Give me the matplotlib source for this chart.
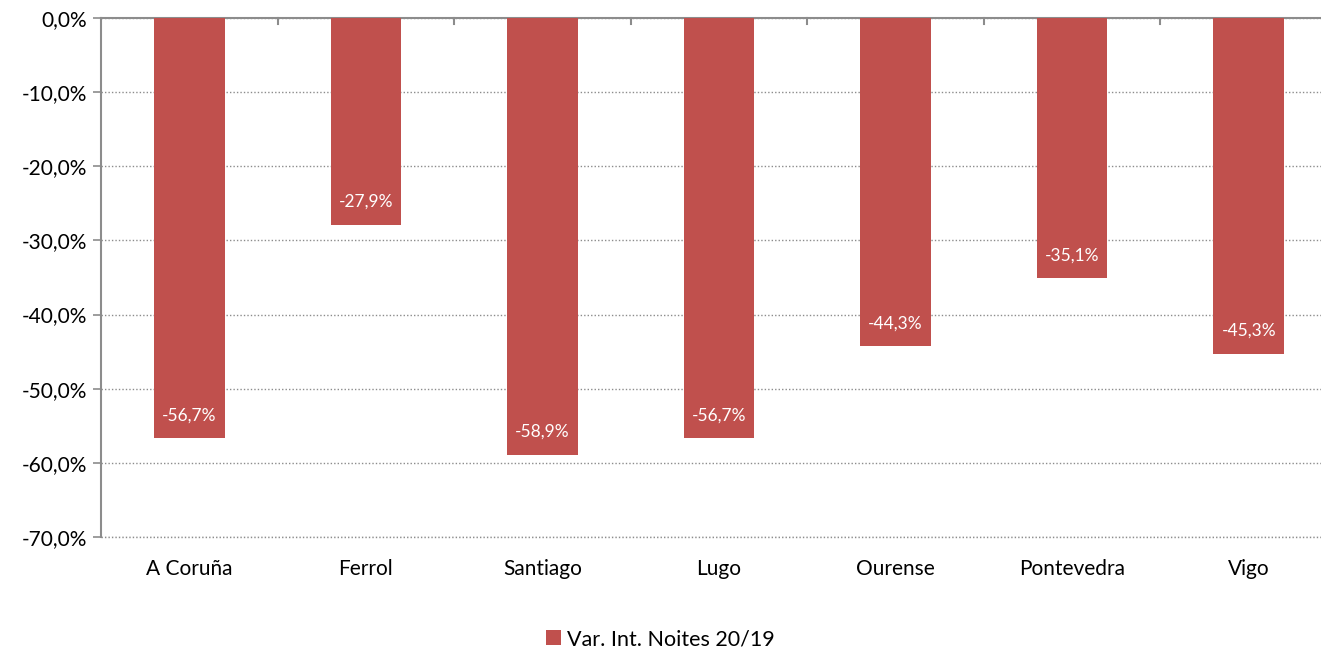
import matplotlib
matplotlib.use("Agg")
import matplotlib.pyplot as plt
from matplotlib.ticker import FuncFormatter, MultipleLocator
from matplotlib.patches import Patch

categories = ["A Coruña", "Ferrol", "Santiago", "Lugo", "Ourense", "Pontevedra", "Vigo"]
values = [-56.7, -27.9, -58.9, -56.7, -44.3, -35.1, -45.3]
series_name = "Var. Int. Noites 20/19"

plt.rcParams['font.family'] = ['Lato', 'DejaVu Sans']
W, H = 1321, 649
fig = plt.figure(figsize=(W/100, H/100), dpi=100)
left, right = 101/W, 1337/W
top, bottom = 1 - 18/H, 1 - 537/H
ax = fig.add_axes([left, bottom, right-left, top-bottom])

color = "#C0504D"
axcol = "#8C8C8C"
x = list(range(len(categories)))
bars = ax.bar(x, values, width=0.4, color=color, zorder=3)
for xi, v in zip(x, values):
    ax.annotate(f"{v:.1f}%".replace(".", ","), (xi, v), xytext=(0, 23), textcoords="offset pixels",
                ha="center", va="center", color="white", fontsize=12.5, zorder=4)

ax.set_ylim(-70, 0)
ax.set_xlim(-0.5, len(categories) - 0.5)
ax.yaxis.set_major_locator(MultipleLocator(10))
ax.yaxis.set_major_formatter(FuncFormatter(lambda v, p: f"{v:.1f}%".replace(".", ",")))
ax.grid(axis="y", linestyle=(0, (1, 1.5)), color="#8C8C8C", linewidth=1, zorder=0)
ax.axhline(-70, linestyle=(0, (1, 1.5)), color="#8C8C8C", linewidth=1, zorder=0, clip_on=False)

for s in ["right", "bottom"]:
    ax.spines[s].set_visible(False)
ax.spines["top"].set_color(axcol)
ax.spines["left"].set_color(axcol)
ax.spines["top"].set_linewidth(1.5)
ax.spines["left"].set_linewidth(1.5)
ax.tick_params(axis="y", colors=axcol, labelcolor="black", labelsize=15, length=6, width=1.2, pad=4)

ax.set_xticks(x)
ax.set_xticklabels(categories, fontsize=15)
ax.tick_params(axis="x", length=0, pad=16)
# boundary ticks on the zero line
for b in [i + 0.5 for i in range(len(categories) - 1)]:
    ax.plot([b, b], [0, -0.85], color=axcol, linewidth=1.5, clip_on=False, zorder=5)

handles = [Patch(facecolor=color, label=series_name)]
fig.legend(handles=handles, loc="center", bbox_to_anchor=(0.5, 1 - 639/H), frameon=False,
           fontsize=15.5, handlelength=0.7, handleheight=0.7, handletextpad=0.3)

fig.savefig("out.png", dpi=100)
